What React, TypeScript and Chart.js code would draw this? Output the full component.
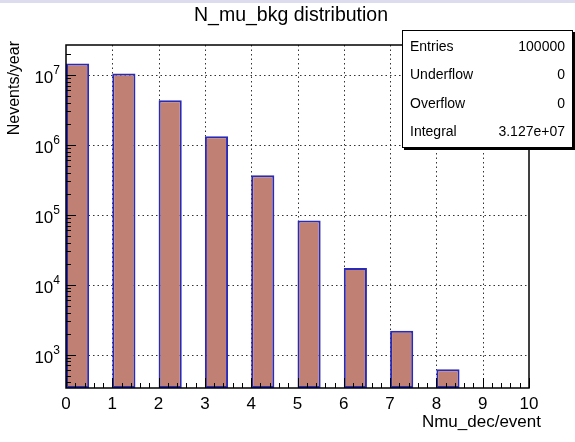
import { useEffect, useRef } from "react";
import { Chart, registerables } from "chart.js";

Chart.register(...registerables);

// Histogram content: one entry per bin starting at binLow, bar covers half the bin
const binLow = [0, 1, 2, 3, 4, 5, 6, 7, 8];
const nEvents = [1.46e7, 1.05e7, 4.36e6, 1.33e6, 3.69e5, 8.3e4, 1.73e4, 2.2e3, 620];
const xTickValues = [0, 1, 2, 3, 4, 5, 6, 7, 8, 9, 10];
const yDecadeExponents = [3, 4, 5, 6, 7];
const statsNames = ["Entries", "Underflow", "Overflow", "Integral"];
const statsValues = ["100000", "0", "0", "3.127e+07"];
const titleText = "N_mu_bkg distribution";
const xTitle = "Nmu_dec/event";
const yTitle = "Nevents/year";

const FONT = "'Liberation Sans', Arial, Helvetica, sans-serif";

const rootStyle = {
  id: "rootStyle",
  beforeDraw(chart: any) {
    const { ctx, width } = chart;
    ctx.save();
    ctx.fillStyle = "#ffffff";
    ctx.fillRect(0, 0, chart.width, chart.height);
    ctx.fillStyle = "#dcdcee";
    ctx.fillRect(0, 0, width, 3);
    ctx.restore();
  },
  beforeDatasetsDraw(chart: any) {
    const { ctx, chartArea: a, scales } = chart;
    const xs = scales.x;
    const ys = scales.y;
    ctx.save();
    ctx.strokeStyle = "#333";
    ctx.lineWidth = 1;
    ctx.setLineDash([1.5, 3]);
    for (const v of xTickValues) {
      if (v === xTickValues[0] || v === xTickValues[xTickValues.length - 1]) continue;
      const px = Math.round(xs.getPixelForValue(v)) + 0.5;
      ctx.beginPath();
      ctx.moveTo(px, a.top);
      ctx.lineTo(px, a.bottom);
      ctx.stroke();
    }
    for (const e of yDecadeExponents) {
      const py = Math.round(ys.getPixelForValue(Math.pow(10, e))) + 0.5;
      ctx.beginPath();
      ctx.moveTo(a.left, py);
      ctx.lineTo(a.right, py);
      ctx.stroke();
    }
    ctx.restore();
  },
  afterDatasetsDraw(chart: any) {
    const { ctx, chartArea: a, scales } = chart;
    const xs = scales.x;
    const ys = scales.y;
    ctx.save();
    ctx.strokeStyle = "#000";
    ctx.lineWidth = 1;
    ctx.setLineDash([]);
    // x ticks: primary at integers, secondary every 0.2
    for (let i = 0; i <= 50; i++) {
      const v = i / 5;
      const px = Math.round(xs.getPixelForValue(v)) + 0.5;
      const len = i % 5 === 0 ? 10 : 5;
      ctx.beginPath();
      ctx.moveTo(px, a.bottom);
      ctx.lineTo(px, a.bottom - len);
      ctx.stroke();
    }
    // y ticks on the log axis
    for (let e = 2; e <= 7; e++) {
      for (let m = 1; m <= 9; m++) {
        const v = m * Math.pow(10, e);
        if (v < ys.min || v > ys.max) continue;
        const py = Math.round(ys.getPixelForValue(v)) + 0.5;
        const len = m === 1 ? 10 : 5;
        ctx.beginPath();
        ctx.moveTo(a.left, py);
        ctx.lineTo(a.left + len, py);
        ctx.stroke();
      }
    }
    // frame
    ctx.lineWidth = 1.5;
    ctx.strokeRect(a.left, a.top, a.right - a.left, a.bottom - a.top);

    // y labels as 10 with a raised exponent
    ctx.fillStyle = "#000";
    for (const e of yDecadeExponents) {
      const py = ys.getPixelForValue(Math.pow(10, e));
      const expStr = String(e);
      ctx.font = `12px ${FONT}`;
      const ew = ctx.measureText(expStr).width;
      const right = a.left - 6;
      ctx.textAlign = "left";
      ctx.textBaseline = "alphabetic";
      ctx.fillText(expStr, right - ew, py - 1);
      ctx.font = `17px ${FONT}`;
      ctx.textAlign = "right";
      ctx.fillText("10", right - ew, py + 8);
    }
    ctx.restore();
  },
  afterDraw(chart: any) {
    const { ctx, chartArea: a } = chart;
    ctx.save();
    ctx.fillStyle = "#000";
    // title
    ctx.font = `19.5px ${FONT}`;
    ctx.textAlign = "center";
    ctx.textBaseline = "middle";
    ctx.fillText(titleText, 291, 16);

    // axis titles
    ctx.font = `17px ${FONT}`;
    ctx.textAlign = "right";
    ctx.textBaseline = "middle";
    ctx.fillText(xTitle, a.right + 12, 422);
    ctx.font = `16px ${FONT}`;
    ctx.save();
    ctx.translate(15, a.top - 4);
    ctx.rotate(-Math.PI / 2);
    ctx.textAlign = "right";
    ctx.fillText(yTitle, 0, 0);
    ctx.restore();

    // statistics box
    const bx = 402, by = 30, bw = 171, bh = 118;
    ctx.fillStyle = "#000";
    ctx.fillRect(bx + 2, by + 2, bw, bh);
    ctx.fillStyle = "#fff";
    ctx.fillRect(bx, by, bw, bh);
    ctx.strokeStyle = "#000";
    ctx.lineWidth = 1;
    ctx.strokeRect(bx + 0.5, by + 0.5, bw - 1, bh - 1);
    ctx.fillStyle = "#000";
    ctx.font = `14px ${FONT}`;
    ctx.textBaseline = "middle";
    const rowY = [47, 75, 104, 132];
    statsNames.forEach((n, i) => {
      ctx.textAlign = "left";
      ctx.fillText(n, bx + 8, rowY[i]);
      ctx.textAlign = "right";
      ctx.fillText(statsValues[i], bx + bw - 8, rowY[i]);
    });
    ctx.restore();
  },
};

export default function App() {
  const ref = useRef<HTMLCanvasElement | null>(null);

  useEffect(() => {
    if (!ref.current) return;
    const chart = new Chart(ref.current, {
      type: "bar",
      data: {
        datasets: [
          {
            data: binLow.map((x, i) => ({ x: x + 0.25, y: nEvents[i] })),
            backgroundColor: "rgb(192,128,116)",
            borderColor: "#2a2ab8",
            borderWidth: 2,
            borderSkipped: false,
            barPercentage: 0.5,
            categoryPercentage: 1,
          },
        ],
      },
      options: {
        responsive: false,
        animation: false,
        devicePixelRatio: 1,
        layout: { padding: { top: 45, right: 46, left: 0, bottom: 0 } },
        plugins: {
          legend: { display: false },
          title: { display: false },
          tooltip: { enabled: false },
        },
        scales: {
          x: {
            type: "linear",
            min: 0,
            max: 10,
            offset: false,
            grid: { display: false, drawTicks: false },
            border: { display: false },
            afterBuildTicks: (s: any) => {
              s.ticks = xTickValues.map((v) => ({ value: v }));
            },
            afterFit: (s: any) => {
              s.height = 54;
            },
            ticks: {
              padding: 6,
              color: "#000",
              font: { family: FONT, size: 17 },
              maxRotation: 0,
              autoSkip: false,
            },
          },
          y: {
            type: "logarithmic",
            min: 333,
            max: 2.68e7,
            grid: { display: false, drawTicks: false },
            border: { display: false },
            ticks: { display: false },
            afterFit: (s: any) => {
              s.width = 66;
            },
          },
        },
      },
      plugins: [rootStyle],
    });
    return () => chart.destroy();
  }, []);

  return (
    <div style={{ position: "fixed", left: 0, top: 0, width: 575, height: 442, background: "#fff" }}>
      <canvas ref={ref} width={575} height={442} style={{ display: "block" }} />
    </div>
  );
}
